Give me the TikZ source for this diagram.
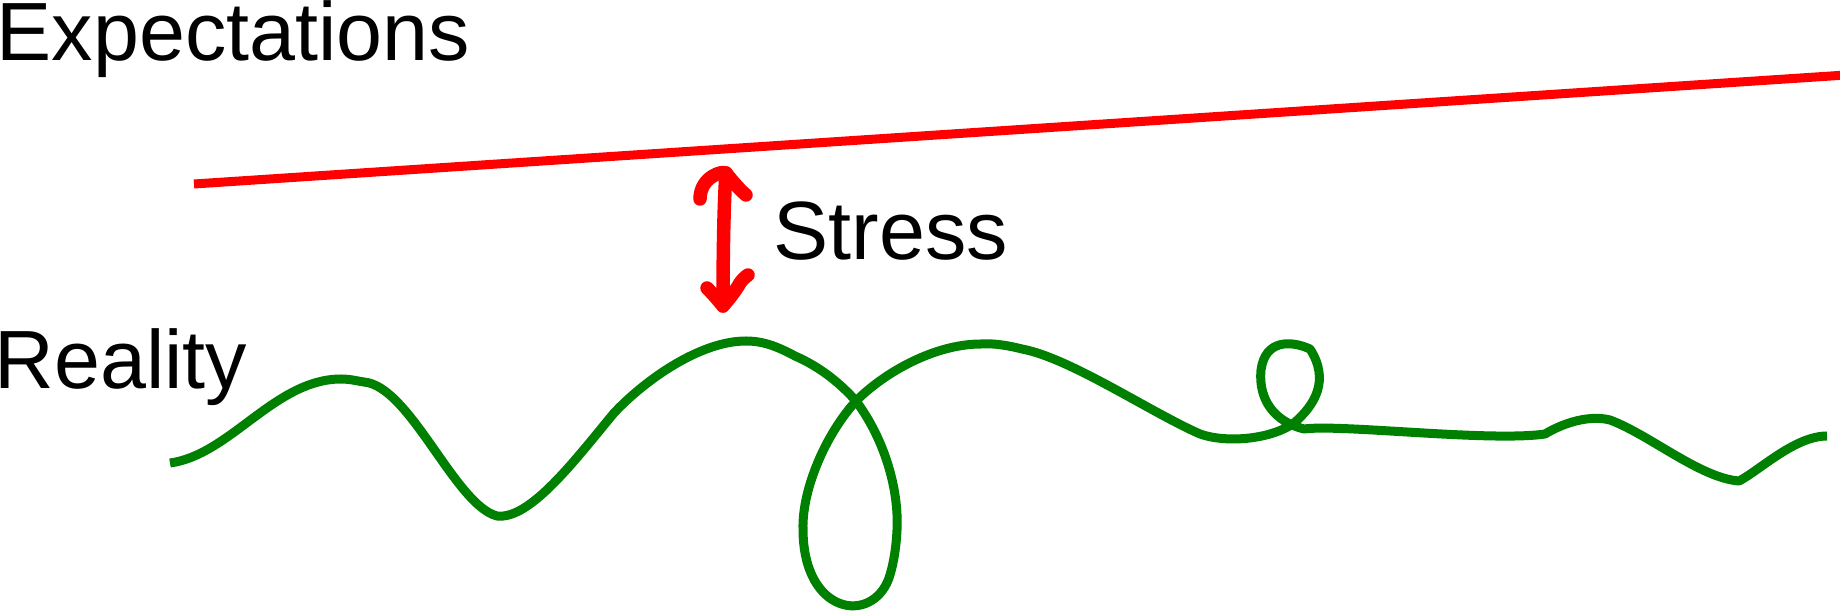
\documentclass[tikz,border=0pt]{standalone}
\usepackage{fontspec}
\setmainfont{Liberation Sans}
\definecolor{realgreen}{RGB}{0,128,0}
\begin{document}
\begin{tikzpicture}[x=0.01cm,y=-0.01cm,
  lbl/.style={anchor=base west, inner sep=0pt, font=\fontsize{23.5pt}{28pt}\selectfont},
  expline/.style={draw=red, line width=0.09cm},
  realline/.style={draw=realgreen, line width=0.09cm, line join=round},
  stressarrow/.style={draw=red, line width=0.135cm, line cap=round, line join=round}]
\useasboundingbox (0,0) rectangle (1840,613);

% labels
\node[lbl] (exp) at (-4,61) {Expectations};
\node[lbl] (stress) at (773,260) {Stress};
\node[lbl] (real) at (-6,389) {Reality};

% expectations line
\coordinate (e1) at (194,184);
\coordinate (e2) at (1846,75);
\draw[expline] (e1) -- (e2);

% stress arrow (hand drawn)
\coordinate (atop) at (726,173);
\coordinate (abot) at (723,306);
\draw[stressarrow] (atop) .. controls (724,200) and (723,250) .. (abot);
\draw[stressarrow] (700,199) .. controls (700,188) and (706,180) .. (713,176)
                   .. controls (718,173) and (722,172) .. (atop)
                   .. controls (733,182) and (740,190) .. (746,195);
\draw[stressarrow] (707,288) .. controls (712,293) and (718,300) .. (abot)
                   .. controls (730,298) and (736,290) .. (740,283)
                   .. controls (742,280) and (745,277) .. (748,275);

% reality curve
\coordinate (r0) at (170,463);
\coordinate (r1) at (1827,436);
\draw[realline] (r0)
  .. controls (230,455) and (275,379) .. (341,379)
  .. controls (350,379) and (357,381) .. (364,382)
  .. controls (410,386) and (455,505) .. (497,516)
  .. controls (530,520) and (575,460) .. (614,413)
  .. controls (645,380) and (700,341) .. (746,341)
  .. controls (765,341) and (780,348) .. (795,356)
  .. controls (818,366) and (838,381) .. (856,401)
  .. controls (885,440) and (899,490) .. (897,530)
  .. controls (896,550) and (893,566) .. (889,578)
  .. controls (872,625) and (803,615) .. (803,529)
  .. controls (802,490) and (825,435) .. (856,401)
  .. controls (885,372) and (935,344) .. (981,344)
  .. controls (995,343) and (1010,346) .. (1022,349)
  .. controls (1070,358) and (1150,412) .. (1200,434)
  .. controls (1225,443) and (1270,440) .. (1294,423)
  .. controls (1315,405) and (1330,380) .. (1310,349)
  .. controls (1290,340) and (1265,340) .. (1261,370)
  .. controls (1258,400) and (1275,422) .. (1304,429)
  .. controls (1340,424) and (1490,442) .. (1545,434)
  .. controls (1565,422) and (1590,415) .. (1610,420)
  .. controls (1650,435) and (1700,478) .. (1739,481)
  .. controls (1760,470) and (1795,436) .. (r1);
\end{tikzpicture}
\end{document}
